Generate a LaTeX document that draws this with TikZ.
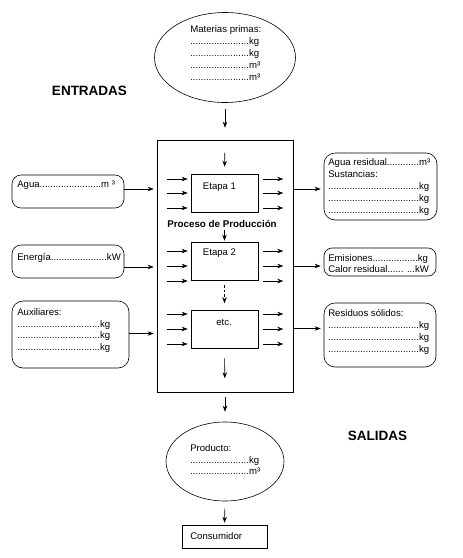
\documentclass[tikz,border=0pt]{standalone}
\usepackage{fontspec}
\setmainfont{Liberation Sans}
\usetikzlibrary{shapes.geometric,arrows.meta,calc}
\begin{document}
\begin{tikzpicture}[x=1pt,y=-1pt,line width=0.6pt,
  arr/.style={-{Stealth[length=6pt,width=4.5pt]}},
  txt/.style={inner sep=0pt,align=left,anchor=base west,font=\fontsize{9.6}{12}\selectfont},
  ctxt/.style={inner sep=0pt,anchor=base,font=\fontsize{9.6}{12}\selectfont},
  rbox/.style={draw,rounded corners=9pt,inner sep=0pt},
  stagebox/.style={draw,minimum width=67pt,minimum height=38pt,inner sep=0pt},
  ell/.style={draw,ellipse,inner sep=0pt},
  head/.style={inner sep=0pt,font=\fontsize{13.5}{16}\selectfont\bfseries}]
\useasboundingbox (0,0) rectangle (463,558);

% main process box and stages
\node[draw,minimum width=136pt,minimum height=252pt,inner sep=0pt] (proc) at (225,266) {};
\node[stagebox] (e1) at (224.5,193) {};
\node[stagebox] (e2) at (224.5,261) {};
\node[stagebox] (e3) at (224.5,329.5) {};
\node[ctxt] (te1) at (219.5,189.5) {Etapa 1};
\node[ctxt] (te2) at (219.5,255.5) {Etapa 2};
\node[ctxt] (te3) at (224,325.5) {etc.};
\node[ctxt,font=\fontsize{9.8}{12}\selectfont\bfseries] (tproc) at (222,227.5) {Proceso de Producción};

% ellipses (multi-line texts: base anchor is the last line)
\node[ell,minimum width=141pt,minimum height=90pt] (mp) at (225,57.5) {};
\node[txt] (tmp) at (190,80.5) {Materias primas:\\......................kg\\......................kg\\......................m³\\......................m³};
\node[ell,minimum width=118pt,minimum height=79pt] (prod) at (225,461.5) {};
\node[txt,font=\fontsize{9.6}{11.5}\selectfont] (tprod) at (190,474.5) {Producto:\\......................kg\\......................m³};
\node[draw,minimum width=85pt,minimum height=23pt,inner sep=0pt] (cons) at (224.5,536.5) {};
\node[txt] (tcons) at (190,539.5) {Consumidor};

% headings
\node[head] (ent) at (89.5,91) {ENTRADAS};
\node[head] (sal) at (377.5,436) {SALIDAS};

% input boxes
\node[rbox,minimum width=112pt,minimum height=33pt] (agua) at (68,191.5) {};
\node[txt] (tagua) at (17,187.5) {Agua.......................m ³};
\node[rbox,minimum width=112pt,minimum height=33pt] (ener) at (68,261.5) {};
\node[txt] (tener) at (17,260.5) {Energía.....................kW};
\node[rbox,rounded corners=11pt,minimum width=117pt,minimum height=67pt] (aux) at (70.5,334.5) {};
\node[txt,font=\fontsize{9.6}{11.7}\selectfont] (taux) at (17,350.6) {Auxiliares:\\...............................kg\\...............................kg\\...............................kg};

% output boxes
\node[rbox,rounded corners=11pt,minimum width=113pt,minimum height=67pt] (ares) at (380.5,186.5) {};
\node[txt] (tares) at (328,213.5) {Agua residual............m³\\Sustancias:\\..................................kg\\..................................kg\\..................................kg};
\node[rbox,rounded corners=8pt,minimum width=112pt,minimum height=28pt] (emis) at (380,262) {};
\node[txt,font=\fontsize{9.6}{11}\selectfont] (temis) at (328,272.5) {Emisiones.................kg\\Calor residual...... ...kW};
\node[rbox,rounded corners=11pt,minimum width=112pt,minimum height=64pt] (resid) at (380,335) {};
\node[txt] (tresid) at (328,352.5) {Residuos sólidos:\\..................................kg\\..................................kg\\..................................kg};

% vertical flow arrows
\draw[arr,shorten <=6pt,shorten >=12pt] (mp.south) -- (proc.north);
\draw[arr,shorten <=13pt,shorten >=7pt] (proc.north) -- (e1.north);
\draw[arr,shorten <=18pt,shorten >=1pt] (e1.south) -- (e2.north);
\draw[arr,dash pattern=on 2.5pt off 2pt,shorten <=5pt,shorten >=7pt] (e2.south) -- (e3.north);
\draw[arr,shorten <=9.5pt,shorten >=14pt] (e3.south) -- (proc.south);
\draw[arr,shorten <=5pt,shorten >=10pt] (proc.south) -- (prod.north);
\draw[arr,shorten <=7pt,shorten >=2pt] (prod.south) -- (cons.north);

% small stage arrows
\foreach \s/\a/\b/\c in {e1/-14/0/15, e2/-10/5/20, e3/-15.5/-0.5/14.5}{
  \foreach \d in {\a,\b,\c}{
    \draw[arr] ($(\s.west)+(-24,\d)$) -- ($(\s.west)+(-3,\d)$);
    \draw[arr] ($(\s.east)+(5,\d)$) -- ($(\s.east)+(25,\d)$);
  }
}

% inputs
\coordinate (ia) at ($(agua.east)+(0,-2.5)$);
\coordinate (ie) at ($(ener.east)+(0,5.5)$);
\coordinate (ix) at ($(aux.east)+(0,-1)$);
\draw[arr,shorten >=3pt] (ia) -- (ia -| proc.west);
\draw[arr,shorten >=3pt] (ie) -- (ie -| proc.west);
\draw[arr,shorten >=3pt] (ix) -- (ix -| proc.west);

% outputs
\coordinate (oa) at ($(ares.west)+(0,2.5)$);
\coordinate (oe) at ($(emis.west)+(0,4)$);
\coordinate (orr) at ($(resid.west)+(0,-6.5)$);
\draw[arr,shorten >=3pt] (oa -| proc.east) -- (oa);
\draw[arr,shorten >=3pt] (oe -| proc.east) -- (oe);
\draw[arr,shorten >=3pt] (orr -| proc.east) -- (orr);
\end{tikzpicture}
\end{document}
